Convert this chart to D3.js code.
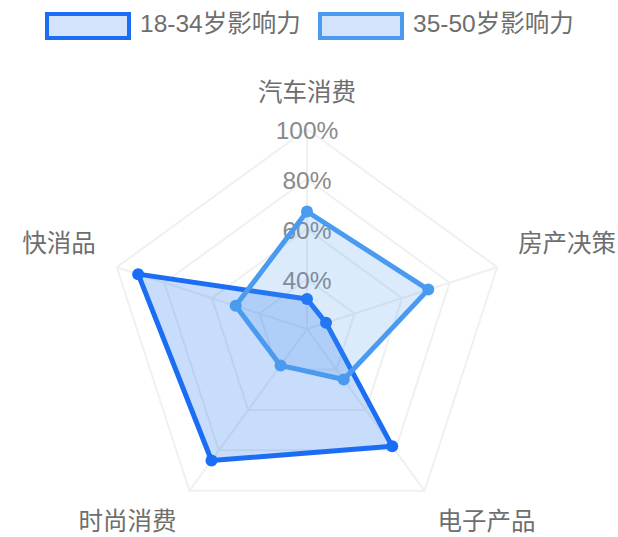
<!DOCTYPE html>
<html>
<head>
<meta charset="utf-8">
<script src="https://cdn.jsdelivr.net/npm/d3@7"></script>
<style>
  html, body { margin: 0; padding: 0; background: #fff; }
  svg text { font-family: "Liberation Sans", "Noto Sans CJK SC", sans-serif; }
</style>
</head>
<body>
<svg id="chart" width="618" height="537"></svg>
<script>
// Dimensions of influence, clockwise from the top
const categories = ["汽车消费", "房产决策", "电子产品", "时尚消费", "快消品"];
const seriesNames = ["18-34岁影响力", "35-50岁影响力"];
const young = [32, 28, 78, 85, 91];   // 18-34
const middle = [67, 71, 45, 38, 50];  // 35-50
const ringValues = [40, 60, 80, 100];
const tickLabels = ["40%", "60%", "80%", "100%"];

const colors = ["#1b6ef3", "#4a9bef"];
const fillOpacity = [0.24, 0.2];
const fontSize = 24.5;

const svg = d3.select("#chart");
const cx = 307, cy = 329, R = 200;

const r = d3.scaleLinear().domain([20, 100]).range([0, R]);
const angle = d3.scalePoint().domain(categories).range([0, 2 * Math.PI * 4 / 5]);

function pt(cat, v) {
  const a = angle(cat);
  return [cx + r(v) * Math.sin(a), cy - r(v) * Math.cos(a)];
}

// Grid rings
const g = svg.append("g");
ringValues.forEach(v => {
  g.append("path")
    .attr("d", d3.line()(categories.map(c => pt(c, v))) + "Z")
    .attr("fill", "none")
    .attr("stroke", "#f0f0f0")
    .attr("stroke-width", 2);
});
// Spokes
categories.forEach(c => {
  const [x, y] = pt(c, 100);
  g.append("line")
    .attr("x1", cx).attr("y1", cy).attr("x2", x).attr("y2", y)
    .attr("stroke", "#f0f0f0").attr("stroke-width", 2);
});

// Radial tick labels
ringValues.forEach((v, i) => {
  g.append("text")
    .attr("x", cx)
    .attr("y", cy - r(v) + 4)
    .attr("text-anchor", "middle")
    .attr("dominant-baseline", "middle")
    .attr("font-size", fontSize)
    .attr("fill", "#8a8a8a")
    .text(tickLabels[i]);
});

// Category names
const gap = 22;
categories.forEach(c => {
  const a = angle(c);
  const s = Math.sin(a), co = Math.cos(a);
  const x = cx + (R + gap) * s, y = cy - (R + gap) * co;
  let anchor = Math.abs(s) < 0.1 ? "middle" : (s > 0 ? "start" : "end");
  let dy = co > 0.5 ? -12 : (co < -0.5 ? 15 : -15);
  g.append("text")
    .attr("x", x)
    .attr("y", y + dy)
    .attr("text-anchor", anchor)
    .attr("dominant-baseline", "middle")
    .attr("font-size", fontSize)
    .attr("fill", "#6e6e6e")
    .text(c);
});

// Series polygons
[young, middle].forEach((vals, si) => {
  const pts = categories.map((c, i) => pt(c, vals[i]));
  const sg = svg.append("g");
  sg.append("path")
    .attr("d", d3.line()(pts) + "Z")
    .attr("fill", colors[si])
    .attr("fill-opacity", fillOpacity[si])
    .attr("stroke", colors[si])
    .attr("stroke-width", 5)
    .attr("stroke-linejoin", "round");
  sg.selectAll("circle").data(pts).join("circle")
    .attr("cx", d => d[0]).attr("cy", d => d[1])
    .attr("r", 6)
    .attr("fill", colors[si]);
});

// Legend
const legendX = [47, 320];
seriesNames.forEach((name, i) => {
  const lg = svg.append("g").attr("transform", `translate(${legendX[i]},14)`);
  lg.append("rect")
    .attr("width", 82).attr("height", 24)
    .attr("fill", "#d3e3fb")
    .attr("stroke", colors[i])
    .attr("stroke-width", 4);
  lg.append("text")
    .attr("x", 93).attr("y", 12)
    .attr("dominant-baseline", "middle")
    .attr("font-size", fontSize)
    .attr("fill", "#6e6e6e")
    .text(name);
});
</script>
</body>
</html>
